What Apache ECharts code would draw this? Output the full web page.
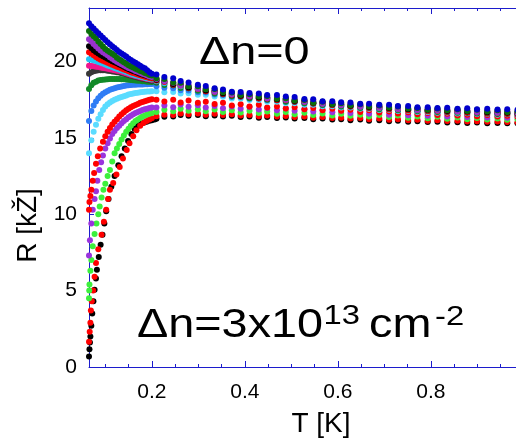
<!DOCTYPE html>
<html><head><meta charset="utf-8">
<script src="https://cdn.jsdelivr.net/npm/echarts@6/dist/echarts.min.js"></script>
<style>html,body{margin:0;padding:0;background:#fff}#c{width:516px;height:440px}</style>
</head><body><div id="c"></div>
<script>
const F = 'Liberation Sans, Arial, sans-serif';
const xTickLabels = [0.2, 0.4, 0.6, 0.8];
const xMinorTicks = [0.1, 0.15, 0.25, 0.3, 0.35, 0.45, 0.5, 0.55, 0.65, 0.7, 0.75, 0.85, 0.9, 0.95];
const yTickLabels = [0, 5, 10, 15, 20];

const tLow = [0.065,0.07,0.075,0.08,0.085,0.09,0.095,0.1,0.105,0.11,0.115,0.12,0.125,0.13,0.135,0.14,0.145,0.15,0.155,0.16,0.165,0.17,0.175,0.18,0.185,0.19,0.195,0.2];
const tHigh = [0.21,0.227,0.246,0.262,0.279,0.299,0.316,0.335,0.353,0.372,0.391,0.41,0.43,0.448,0.469,0.488,0.507,0.528,0.547,0.567,0.588,0.607,0.627,0.648,0.667,0.689,0.71,0.729,0.751,0.771,0.793,0.814,0.835,0.857,0.878,0.899,0.921,0.943,0.964,0.986];

const colors = ['#0000cc','#0a6e0a','#9932cc','#000000','#ff0000','#22c4f4','#f0168c','#383838','#128a28','#2f7df5','#5adcff','#ff0000','#9a33dd','#3cf03c','#ff0000','#000000'];

// low-temperature part (on tLow)
const r01Low = [22.5,22.3,22.15,22.0,21.85,21.7,21.55,21.4,21.25,21.12,21.0,20.88,20.75,20.62,20.52,20.42,20.32,20.2,20.1,20.0,19.92,19.82,19.72,19.62,19.55,19.42,19.3,19.2];
const r02Low = [22.0,21.8,21.65,21.5,21.3,21.15,20.98,20.82,20.7,20.6,20.5,20.4,20.25,20.15,20.05,19.95,19.85,19.76,19.67,19.6,19.52,19.45,19.38,19.32,19.25,19.2,19.12,19.08];
const r03Low = [21.45,21.3,21.15,21.0,20.85,20.72,20.6,20.5,20.4,20.28,20.18,20.08,19.98,19.9,19.82,19.74,19.66,19.58,19.52,19.45,19.38,19.32,19.26,19.2,19.14,19.08,19.02,18.98];
const r04Low = [21.0,20.88,20.74,20.62,20.52,20.43,20.34,20.26,20.18,20.1,20.02,19.95,19.88,19.8,19.73,19.66,19.58,19.5,19.44,19.38,19.32,19.26,19.2,19.15,19.1,19.05,19.0,18.96];
const r05Low = [20.6,20.5,20.4,20.3,20.2,20.12,20.05,19.98,19.92,19.85,19.78,19.72,19.66,19.6,19.54,19.48,19.42,19.36,19.3,19.25,19.2,19.15,19.1,19.05,19.0,18.96,18.92,18.88];
const r06Low = [20.15,20.12,20.08,20.03,19.97,19.91,19.86,19.8,19.74,19.69,19.63,19.58,19.53,19.48,19.42,19.37,19.31,19.26,19.2,19.15,19.1,19.06,19.02,18.98,18.94,18.9,18.87,18.84];
const r07Low = [19.72,19.7,19.68,19.66,19.63,19.6,19.58,19.55,19.52,19.49,19.46,19.43,19.4,19.37,19.33,19.28,19.23,19.18,19.13,19.09,19.05,19.01,18.97,18.93,18.9,18.86,18.83,18.8];
const r08Low = [19.2,19.3,19.36,19.4,19.42,19.43,19.43,19.42,19.4,19.38,19.35,19.32,19.3,19.27,19.23,19.19,19.15,19.1,19.06,19.02,18.98,18.94,18.9,18.86,18.83,18.8,18.77,18.74];
const r09Low = [18.2,18.45,18.6,18.68,18.75,18.78,18.8,18.82,18.84,18.85,18.86,18.86,18.86,18.85,18.84,18.83,18.82,18.8,18.79,18.77,18.76,18.74,18.73,18.71,18.7,18.68,18.67,18.65];
const r10Low = [16.1,16.75,17.12,17.38,17.6,17.75,17.88,17.98,18.07,18.15,18.2,18.25,18.3,18.33,18.36,18.39,18.42,18.44,18.46,18.47,18.48,18.49,18.5,18.5,18.51,18.51,18.52,18.52];
const r11Low = [14.0,14.85,15.4,15.85,16.25,16.55,16.82,17.05,17.2,17.32,17.42,17.5,17.56,17.62,17.68,17.73,17.78,17.83,17.87,17.91,17.94,17.96,17.98,18.0,18.02,18.03,18.04,18.05];
// steep low-temperature curves as [T, R] pairs
const r12Low = [[0.065,10.3],[0.066,10.8],[0.068,11.2],[0.07,11.6],[0.073,12.2],[0.076,12.7],[0.08,13.3],[0.084,13.8],[0.089,14.3],[0.095,14.75],[0.1,15.1],[0.105,15.4],[0.11,15.65],[0.115,15.88],[0.12,16.05],[0.125,16.22],[0.13,16.4],[0.135,16.55],[0.14,16.68],[0.145,16.8],[0.15,16.9],[0.155,17.0],[0.16,17.08],[0.165,17.15],[0.17,17.22],[0.175,17.3],[0.18,17.35],[0.185,17.4],[0.19,17.45],[0.195,17.5],[0.2,17.52]];
const r13Low = [[0.065,7.3],[0.067,8.3],[0.07,9.4],[0.073,10.3],[0.077,11.0],[0.08,11.5],[0.083,12.2],[0.087,12.9],[0.091,13.4],[0.095,13.85],[0.1,14.3],[0.105,14.65],[0.11,14.95],[0.115,15.25],[0.12,15.45],[0.125,15.65],[0.13,15.8],[0.135,15.95],[0.14,16.1],[0.145,16.22],[0.15,16.35],[0.155,16.45],[0.16,16.55],[0.165,16.62],[0.17,16.7],[0.175,16.76],[0.18,16.82],[0.185,16.87],[0.19,16.91],[0.195,16.95],[0.2,16.98]];
const r14Low = [[0.065,4.5],[0.0655,5.0],[0.066,5.4],[0.068,6.3],[0.07,7.0],[0.073,7.9],[0.077,8.7],[0.081,9.4],[0.085,10.0],[0.088,10.5],[0.092,11.1],[0.096,11.6],[0.1,12.0],[0.105,12.5],[0.11,12.9],[0.115,13.45],[0.12,14.0],[0.125,14.3],[0.13,14.6],[0.135,14.9],[0.14,15.15],[0.145,15.4],[0.15,15.6],[0.155,15.8],[0.16,15.95],[0.165,16.1],[0.17,16.2],[0.175,16.3],[0.18,16.4],[0.185,16.47],[0.19,16.53],[0.195,16.58],[0.2,16.62]];
const r15Low = [[0.065,1.66],[0.0665,2.3],[0.068,2.9],[0.069,3.7],[0.071,4.3],[0.074,5.0],[0.077,5.9],[0.08,6.8],[0.085,7.7],[0.092,8.66],[0.097,9.5],[0.102,10.3],[0.106,11.0],[0.11,11.6],[0.117,12.05],[0.124,12.6],[0.131,13.1],[0.138,13.65],[0.146,14.2],[0.152,14.65],[0.16,15.1],[0.167,15.5],[0.175,15.8],[0.182,15.98],[0.189,16.1],[0.195,16.2],[0.2,16.28]];
const r16Low = [[0.065,0.68],[0.066,1.16],[0.067,1.6],[0.068,2.0],[0.07,2.7],[0.072,3.5],[0.0745,4.3],[0.077,5.05],[0.08,5.8],[0.082,6.36],[0.086,7.2],[0.09,8.0],[0.094,8.66],[0.098,9.4],[0.102,10.2],[0.107,11.0],[0.113,11.8],[0.12,12.5],[0.128,13.2],[0.135,13.8],[0.142,14.3],[0.149,14.8],[0.156,15.25],[0.163,15.6],[0.17,15.8],[0.177,15.93],[0.183,16.0],[0.189,16.05],[0.195,16.12],[0.2,16.15],[0.206,16.2]];

// high-temperature part (on tHigh)
const r01High = [19.15,18.98,18.9,18.72,18.62,18.48,18.4,18.25,18.17,18.02,18.0,17.93,17.9,17.8,17.8,17.7,17.67,17.55,17.52,17.4,17.4,17.33,17.32,17.24,17.24,17.16,17.16,17.08,17.08,17.0,17.01,16.95,16.97,16.91,16.93,16.88,16.9,16.85,16.88,16.84];
const r02High = [18.9,18.85,18.62,18.6,18.38,18.37,18.18,18.2,17.98,17.97,17.8,17.86,17.7,17.74,17.56,17.6,17.44,17.47,17.3,17.36,17.22,17.27,17.14,17.2,17.06,17.12,16.98,17.05,16.92,16.96,16.84,16.92,16.8,16.88,16.76,16.84,16.72,16.8,16.7,16.74];
const r03High = [18.85,18.7,18.6,18.45,18.4,18.22,18.2,18.02,18.0,17.85,17.86,17.72,17.74,17.6,17.62,17.5,17.5,17.36,17.38,17.25,17.27,17.15,17.18,17.06,17.1,16.98,17.02,16.9,16.96,16.84,16.88,16.8,16.84,16.74,16.8,16.7,16.76,16.66,16.72,16.64];
const r04High = [18.8,18.72,18.52,18.5,18.3,18.28,18.1,18.08,17.92,17.9,17.76,17.76,17.64,17.65,17.52,17.54,17.42,17.42,17.3,17.3,17.2,17.2,17.1,17.12,17.02,17.04,16.95,16.98,16.88,16.9,16.82,16.84,16.76,16.8,16.72,16.74,16.68,16.7,16.64,16.62];
const r05High = [18.75,18.65,18.5,18.42,18.28,18.2,18.05,18.02,17.88,17.82,17.72,17.7,17.6,17.58,17.48,17.47,17.38,17.36,17.26,17.25,17.17,17.15,17.07,17.06,16.98,16.98,16.9,16.9,16.83,16.84,16.77,16.78,16.72,16.73,16.68,16.68,16.64,16.64,16.6,16.58];
const r06High = [18.7,18.58,18.56,18.38,18.36,18.2,18.16,18.02,17.97,17.86,17.82,17.72,17.7,17.6,17.57,17.48,17.47,17.36,17.35,17.24,17.24,17.14,17.14,17.04,17.04,16.96,16.97,16.88,16.89,16.81,16.82,16.75,16.77,16.7,16.72,16.66,16.68,16.62,16.64,16.6];
const r07High = [18.82,18.66,18.63,18.46,18.43,18.26,18.25,18.08,18.05,17.9,17.89,17.76,17.77,17.64,17.63,17.52,17.53,17.4,17.41,17.29,17.3,17.19,17.21,17.1,17.12,17.02,17.04,16.94,16.96,16.86,16.89,16.81,16.85,16.77,16.81,16.73,16.77,16.7,16.74,16.69];
const r08High = [18.68,18.58,18.45,18.38,18.25,18.18,18.05,17.98,17.85,17.78,17.7,17.66,17.58,17.55,17.46,17.44,17.36,17.34,17.25,17.22,17.15,17.12,17.05,17.03,16.96,16.95,16.88,16.88,16.8,16.8,16.74,16.74,16.69,16.7,16.64,16.65,16.6,16.6,16.57,16.56];
const r09High = [18.6,18.46,18.45,18.26,18.25,18.08,18.07,17.9,17.88,17.72,17.74,17.6,17.62,17.49,17.5,17.37,17.39,17.26,17.27,17.15,17.16,17.05,17.07,16.96,16.99,16.88,16.91,16.8,16.84,16.74,16.77,16.69,16.73,16.64,16.68,16.6,16.64,16.56,16.6,16.54];
const r10High = [18.38,18.28,18.25,18.12,18.1,17.98,17.97,17.84,17.8,17.68,17.67,17.56,17.57,17.46,17.46,17.36,17.35,17.25,17.24,17.14,17.14,17.05,17.04,16.96,16.96,16.88,16.89,16.81,16.82,16.74,16.75,16.68,16.7,16.64,16.66,16.6,16.62,16.56,16.58,16.53];
const r11High = [18.05,17.98,18.0,17.9,17.92,17.82,17.82,17.7,17.69,17.57,17.57,17.47,17.47,17.37,17.37,17.27,17.27,17.17,17.17,17.07,17.07,16.98,16.99,16.9,16.91,16.83,16.84,16.76,16.77,16.69,16.7,16.64,16.66,16.59,16.61,16.56,16.58,16.52,16.54,16.49];
const r12High = [17.5,17.38,17.5,17.32,17.45,17.3,17.36,17.22,17.3,17.12,17.2,17.05,17.16,16.98,17.06,16.92,17.0,16.88,16.96,16.8,16.9,16.78,16.84,16.7,16.8,16.66,16.72,16.6,16.68,16.55,16.62,16.5,16.58,16.46,16.52,16.42,16.5,16.4,16.45,16.38];
const r13High = [16.98,17.12,17.0,17.18,17.04,17.14,16.98,17.08,16.94,17.06,16.9,17.02,16.86,16.96,16.8,16.92,16.78,16.88,16.72,16.82,16.68,16.78,16.62,16.72,16.58,16.68,16.52,16.62,16.48,16.56,16.44,16.52,16.4,16.48,16.36,16.44,16.34,16.42,16.32,16.38];
const r14High = [16.7,16.84,16.74,16.9,16.78,16.88,16.74,16.86,16.7,16.8,16.66,16.78,16.62,16.72,16.58,16.7,16.55,16.64,16.5,16.6,16.46,16.58,16.44,16.52,16.4,16.5,16.36,16.46,16.32,16.4,16.28,16.38,16.25,16.34,16.22,16.3,16.2,16.27,16.18,16.22];
const r15High = [16.42,16.52,16.5,16.6,16.55,16.6,16.52,16.58,16.5,16.54,16.46,16.5,16.42,16.47,16.4,16.43,16.36,16.4,16.32,16.36,16.3,16.32,16.26,16.3,16.22,16.26,16.18,16.22,16.15,16.18,16.12,16.15,16.1,16.12,16.07,16.09,16.05,16.07,16.04,16.02];
const r16High = [16.25,16.38,16.4,16.5,16.44,16.5,16.42,16.47,16.4,16.44,16.36,16.4,16.32,16.36,16.3,16.33,16.26,16.3,16.22,16.26,16.2,16.22,16.16,16.2,16.12,16.15,16.08,16.12,16.05,16.08,16.03,16.05,16.0,16.02,15.98,16.0,15.96,15.98,15.95,15.96];

const lowSets = [r01Low,r02Low,r03Low,r04Low,r05Low,r06Low,r07Low,r08Low,r09Low,r10Low,r11Low,r12Low,r13Low,r14Low,r15Low,r16Low];
const highSets = [r01High,r02High,r03High,r04High,r05High,r06High,r07High,r08High,r09High,r10High,r11High,r12High,r13High,r14High,r15High,r16High];

const series = [];
for (let i = lowSets.length - 1; i >= 0; i--) {
  const low = lowSets[i];
  const lowPts = Array.isArray(low[0]) ? low : low.map((r, k) => [tLow[k], r]);
  const highPts = highSets[i].map((r, k) => [tHigh[k], r]);
  series.push({
    type: 'scatter', xAxisIndex: 0, yAxisIndex: 0,
    data: lowPts.concat(highPts),
    symbol: 'circle', symbolSize: 6, clip: false,
    itemStyle: { color: colors[i], opacity: 1 },
    emphasis: { disabled: true }, silent: true
  });
}

const axisBlue = '#1c1ccc';
const baseX = { type: 'value', min: 0.065, max: 1.0, splitLine: { show: false } };
const chart = echarts.init(document.getElementById('c'), null, { renderer: 'canvas' });
chart.setOption({
  animation: false,
  backgroundColor: '#ffffff',
  grid: { left: 89, top: 8, right: -8, bottom: 73, containLabel: false, outerBoundsMode: 'none' },
  xAxis: [
    Object.assign({}, baseX, {
      position: 'bottom',
      axisLine: { show: true, onZero: false, lineStyle: { color: axisBlue, width: 1 } },
      axisTick: { show: true, inside: true, length: 6, customValues: xTickLabels, lineStyle: { color: axisBlue } },
      axisLabel: { show: true, customValues: xTickLabels, margin: 15, fontSize: 21, color: '#000', fontFamily: F, formatter: v => v.toFixed(1) },
      name: 'T [K]', nameLocation: 'middle', nameGap: 43,
      nameTextStyle: { fontSize: 28, color: '#000', fontFamily: F, padding: [0, 0, 0, 29] }
    }),
    Object.assign({}, baseX, {
      position: 'bottom',
      axisLine: { show: false },
      axisTick: { show: true, inside: true, length: 3, customValues: xMinorTicks, lineStyle: { color: axisBlue } },
      axisLabel: { show: false }
    }),
    Object.assign({}, baseX, {
      position: 'top',
      axisLine: { show: true, onZero: false, lineStyle: { color: axisBlue, width: 1 } },
      axisTick: { show: true, inside: true, length: 6, customValues: xTickLabels, lineStyle: { color: axisBlue } },
      axisLabel: { show: false }
    }),
    Object.assign({}, baseX, {
      position: 'top',
      axisLine: { show: false },
      axisTick: { show: true, inside: true, length: 3, customValues: xMinorTicks, lineStyle: { color: axisBlue } },
      axisLabel: { show: false }
    })
  ],
  yAxis: [{
    type: 'value', min: 0, max: 23.5, position: 'left',
    splitLine: { show: false },
    axisLine: { show: true, onZero: false, lineStyle: { color: axisBlue, width: 1 } },
    axisTick: { show: true, inside: true, length: 5, customValues: yTickLabels, lineStyle: { color: axisBlue } },
    axisLabel: { show: true, customValues: yTickLabels, margin: 12, fontSize: 21, color: '#000', fontFamily: F },
    name: 'R [kŽ]', nameLocation: 'middle', nameGap: 30,
    nameTextStyle: { fontSize: 28, color: '#000', fontFamily: F, padding: [0, 76, 0, 0] }
  }],
  graphic: [
    { type: 'text', x: 199, y: 53.5, scaleX: 1.2, silent: true,
      style: { text: 'Δn=0', font: '39px ' + F, fill: '#000', textAlign: 'left', textVerticalAlign: 'middle' } },
    { type: 'text', x: 137, y: 326, scaleX: 1.17, silent: true,
      style: { text: 'Δn=3x10', font: '40px ' + F, fill: '#000', textAlign: 'left', textVerticalAlign: 'middle' } },
    { type: 'text', x: 323.5, y: 316.5, scaleX: 1.17, silent: true,
      style: { text: '13', font: '28px ' + F, fill: '#000', textAlign: 'left', textVerticalAlign: 'middle' } },
    { type: 'text', x: 369, y: 326, scaleX: 1.17, silent: true,
      style: { text: 'cm', font: '40px ' + F, fill: '#000', textAlign: 'left', textVerticalAlign: 'middle' } },
    { type: 'text', x: 435, y: 317, scaleX: 1.17, silent: true,
      style: { text: '-2', font: '28px ' + F, fill: '#000', textAlign: 'left', textVerticalAlign: 'middle' } }
  ],
  series: series
});
</script></body></html>
